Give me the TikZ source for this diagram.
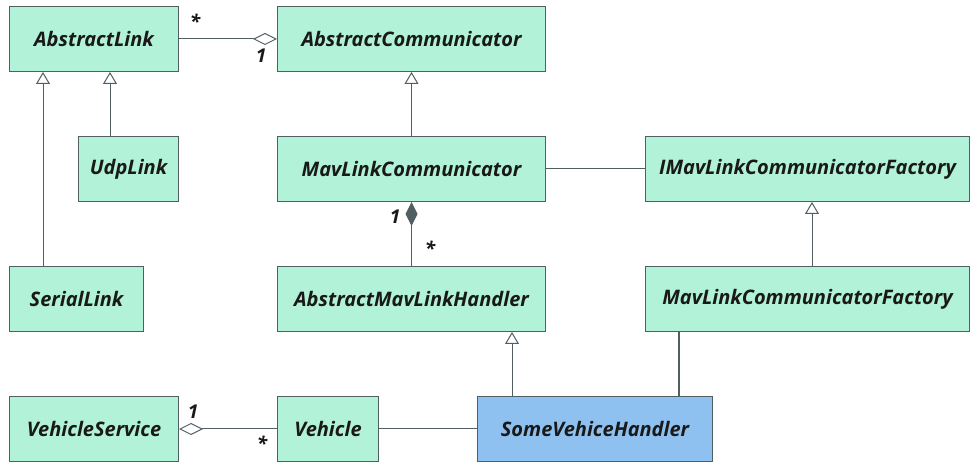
\documentclass[tikz,border=0pt]{standalone}
\usepackage{fontspec}
\setmainfont{Open Sans}
\usetikzlibrary{arrows.meta}
\definecolor{mint}{HTML}{B2F2D8}
\definecolor{skyb}{HTML}{8EC1F0}
\definecolor{edge}{HTML}{4F5F62}
\begin{document}
\begin{tikzpicture}[x=1pt,y=-1pt,
  cls/.style={draw=edge, fill=mint, line width=1pt, anchor=north west, inner sep=0pt,
    minimum height=65pt, font=\fontsize{20}{22}\selectfont\bfseries\itshape, text=black!90},
  conn/.style={draw=edge, line width=1pt},
  gen/.style={conn, -{Triangle[length=12pt,width=14pt,fill=white,line width=1pt]}},
  agg/.style={conn, -{Diamond[length=24pt,width=12pt,fill=white,line width=1pt]}},
  comp/.style={conn, -{Diamond[length=24pt,width=12pt,fill=edge,line width=1pt]}},
  mult/.style={font=\fontsize{19}{20}\selectfont\bfseries\itshape, text=black!90, inner sep=0pt}
]
\useasboundingbox (0,0) rectangle (970,462);
\node[cls, minimum width=169pt] (AL) at (9,6) {AbstractLink};
\node[cls, minimum width=268pt] (AC) at (277,6) {AbstractCommunicator};
\node[cls, minimum width=100pt] (UL) at (78,136) {UdpLink};
\node[cls, minimum width=268pt] (MC) at (277,136) {MavLinkCommunicator};
\node[cls, minimum width=324pt] (IF) at (645,136) {IMavLinkCommunicatorFactory};
\node[cls, minimum width=134pt] (SL) at (9,266) {SerialLink};
\node[cls, minimum width=268pt] (AH) at (277,266) {AbstractMavLinkHandler};
\node[cls, minimum width=324pt] (MF) at (645,266) {MavLinkCommunicatorFactory};
\node[cls, minimum width=169pt] (VS) at (9,396) {VehicleService};
\node[cls, minimum width=101pt] (VE) at (277,396) {Vehicle};
\node[cls, fill=skyb, minimum width=235pt] (SH) at (477,396) {SomeVehiceHandler};

\coordinate (s1) at ([xshift=34pt]SL.north west);
\draw[gen] (s1) -- (s1 |- AL.south);
\coordinate (u1) at ([xshift=32pt]UL.north west);
\draw[gen] (u1) -- (u1 |- AL.south);
\draw[gen] (MC.north) -- (AC.south);
\coordinate (m1) at ([xshift=167pt]MF.north west);
\draw[gen] (m1) -- (m1 |- IF.south);
\coordinate (h1) at ([xshift=35pt]SH.north west);
\draw[gen] (h1) -- (h1 |- AH.south);
\coordinate (h2) at ([xshift=202pt]SH.north west);
\draw[conn, line width=1.8pt] (h2) -- (h2 |- MF.south);

\draw[agg] (AL.east) -- (AC.west);
\draw[conn] (MC.east) -- (IF.west);
\draw[comp] (AH.north) -- (MC.south);
\draw[agg] (VE.west) -- (VS.east);
\draw[conn] (VE.east) -- (SH.west);

\node[mult] (m-a) at (195,21) {*};
\node[mult] (m-b) at (261,56) {1};
\node[mult] (m-c) at (395,217) {1};
\node[mult] (m-d) at (430,248) {*};
\node[mult] (m-e) at (193,412) {1};
\node[mult] (m-f) at (262,443) {*};
\end{tikzpicture}
\end{document}
